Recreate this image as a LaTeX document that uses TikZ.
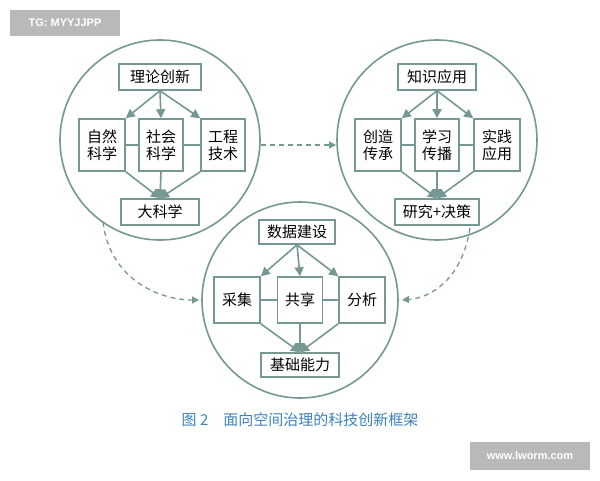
\documentclass[tikz,border=0pt]{standalone}
\usepackage{fontspec}
\setmainfont{Liberation Sans}
\newfontfamily\cjk{Noto Sans CJK SC}
\usetikzlibrary{arrows.meta}
\definecolor{ln}{RGB}{118,152,148}
\definecolor{cap}{RGB}{60,130,190}
\tikzset{
 bx/.style={draw=ln,line width=1.6pt,fill=white,font=\cjk\fontsize{15}{17}\selectfont,inner sep=2pt,align=center},
 ring/.style={draw=ln,line width=1.6pt},
 ar/.style={draw=ln,line width=1.6pt,-{Triangle[length=9pt,width=9pt]}},
 ln/.style={draw=ln,line width=1.6pt},
 da/.style={draw=ln,line width=1.3pt,dashed,dash pattern=on 5pt off 4pt,-{Triangle[length=7pt,width=7pt]}}
}
\begin{document}
\begin{tikzpicture}[x=1pt,y=-1pt]
\useasboundingbox (0,0) rectangle (600,480);
\fill[white] (0,0) rectangle (600,480);
% circles
\draw[ring] (160,140) circle (100);
\draw[ring] (437,140) circle (100);
\draw[ring] (300,300) circle (98);
% left
\node[bx,minimum width=82pt,minimum height=26pt] (a0) at (160,77) {理论创新};
\node[bx,minimum width=46pt,minimum height=52pt] (a1) at (102,145) {自然\\科学};
\node[bx,minimum width=44pt,minimum height=52pt] (a2) at (161,145) {社会\\科学};
\node[bx,minimum width=44pt,minimum height=52pt] (a3) at (223,145) {工程\\技术};
\node[bx,minimum width=78pt,minimum height=26pt] (a4) at (160,212) {大科学};
\draw[ln] (a1.east) -- (a2.west) (a2.east) -- (a3.west);
\draw[ar] (a0.south) -- (a1.north east);
\draw[ar] (a0.south) -- (a2.north);
\draw[ar] (a0.south) -- (a3.north west);
\draw[ar] (a1.south east) -- (a4.north);
\draw[ar] (a2.south) -- (a4.north);
\draw[ar] (a3.south west) -- (a4.north);
% right
\node[bx,minimum width=78pt,minimum height=26pt] (b0) at (437,77) {知识应用};
\node[bx,minimum width=46pt,minimum height=52pt] (b1) at (378,145) {创造\\传承};
\node[bx,minimum width=44pt,minimum height=52pt] (b2) at (437,145) {学习\\传播};
\node[bx,minimum width=46pt,minimum height=52pt] (b3) at (497,145) {实践\\应用};
\node[bx,minimum width=84pt,minimum height=26pt] (b4) at (437,212) {研究+决策};
\draw[ln] (b1.east) -- (b2.west) (b2.east) -- (b3.west);
\draw[ar] (b0.south) -- (b1.north east);
\draw[ar] (b0.south) -- (b2.north);
\draw[ar] (b0.south) -- (b3.north west);
\draw[ar] (b1.south east) -- (b4.north);
\draw[ar] (b2.south) -- (b4.north);
\draw[ar] (b3.south west) -- (b4.north);
% bottom
\node[bx,minimum width=76pt,minimum height=24pt] (c0) at (297,232) {数据建设};
\node[bx,minimum width=46pt,minimum height=46pt] (c1) at (237,300) {采集};
\node[bx,minimum width=45pt,minimum height=46pt] (c2) at (300,300) {共享};
\node[bx,minimum width=46pt,minimum height=46pt] (c3) at (362,300) {分析};
\node[bx,minimum width=78pt,minimum height=24pt] (c4) at (300,365) {基础能力};
\draw[ln] (c1.east) -- (c2.west) (c2.east) -- (c3.west);
\draw[ar] (c0.south) -- (c1.north east);
\draw[ar] (c0.south) -- (c2.north);
\draw[ar] (c0.south) -- (c3.north west);
\draw[ar] (c1.south east) -- (c4.north);
\draw[ar] (c2.south) -- (c4.north);
\draw[ar] (c3.south west) -- (c4.north);
% dashed connectors
\coordinate (l1) at (261,145); \coordinate (r1) at (336,145);
\coordinate (l2) at (103,222); \coordinate (bl) at (199,300);
\coordinate (r2) at (470,228); \coordinate (br) at (402,300);
\draw[da] (l1) -- (r1);
\draw[da] (l2) .. controls (110,280) and (160,300) .. (bl);
\draw[da] (r2) .. controls (462,280) and (430,298) .. (br);
% caption
\node[font=\cjk\fontsize{15}{17}\selectfont,text=cap] (cp) at (300,420) {图 2\quad 面向空间治理的科技创新框架};
% watermarks
\fill[gray!55] (10,10) rectangle (120,36);
\node[text=white,font=\bfseries\fontsize{11}{13}\selectfont] (w1) at (65,23) {TG: MYYJJPP};
\fill[gray!55] (470,442) rectangle (590,470);
\node[text=white,font=\bfseries\fontsize{11}{13}\selectfont] (w2) at (530,456) {www.lworm.com};
\end{tikzpicture}
\end{document}
